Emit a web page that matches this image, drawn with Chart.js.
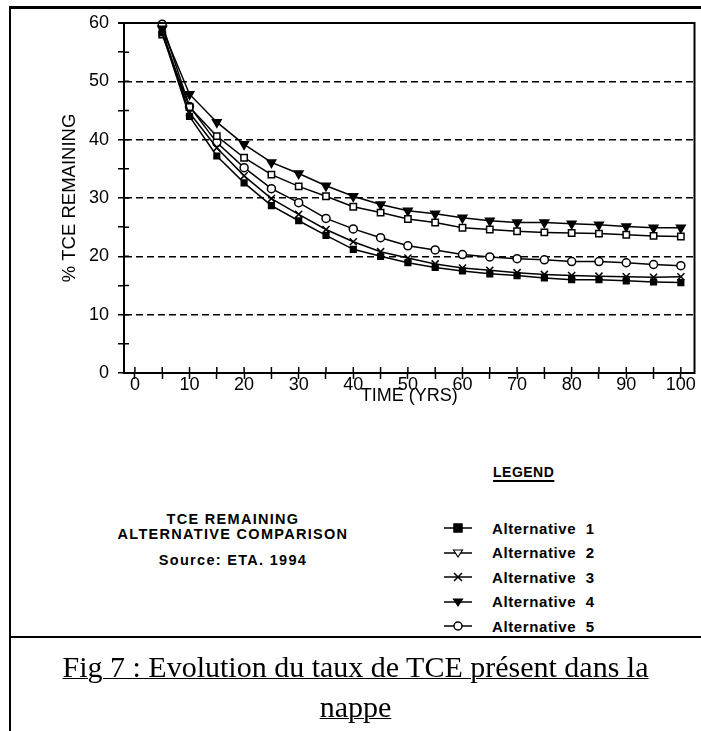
<!DOCTYPE html>
<html>
<head>
<meta charset="utf-8">
<script src="https://cdn.jsdelivr.net/npm/chart.js"></script>
<style>
  body { margin: 0; background: #fff; }
  #page { position: relative; width: 701px; height: 731px; overflow: hidden; color: #000; font-family: "Liberation Sans", Arial, sans-serif; }
  #chart { position: absolute; left: 0; top: 0; }
  .rule { position: absolute; background: #000; }
  .note { position: absolute; left: 83px; width: 300px; text-align: center; font-weight: bold; font-size: 14.5px; letter-spacing: 1.3px; line-height: 16px; }
  #legend-title { position: absolute; left: 493px; top: 464px; font-weight: bold; font-size: 14px; letter-spacing: 0.5px; line-height: 16px; text-decoration: underline; text-decoration-thickness: 2px; text-underline-offset: 3px; }
  .entry { position: absolute; left: 440px; height: 20px; display: flex; align-items: center; }
  .entry svg { width: 36px; height: 20px; margin-right: 16px; }
  .entry span { font-weight: bold; font-size: 15px; letter-spacing: 0.6px; white-space: pre; }
  #caption { position: absolute; left: 10px; top: 647px; width: 691px; text-align: center; font-family: "Liberation Serif", "Times New Roman", serif; font-size: 30px; line-height: 40px; text-decoration: underline; text-decoration-thickness: 1px; }
</style>
</head>
<body>
<div id="page">
  <canvas id="chart" width="701" height="407"></canvas>
  <div class="rule" style="left:10px; top:6px; width:691px; height:3px;"></div>
  <div class="rule" style="left:9px; top:6px; width:2px; height:725px;"></div>
  <div class="rule" style="left:10px; top:636px; width:691px; height:2px;"></div>

  <div class="note" style="top:511px;">TCE REMAINING</div>
  <div class="note" style="top:526px;">ALTERNATIVE COMPARISON</div>
  <div class="note" style="top:552px;">Source: ETA. 1994</div>

  <div id="legend-title">LEGEND</div>
  <div id="legend"></div>

  <div id="caption">Fig 7 : Evolution du taux de TCE présent dans la<br>nappe</div>
</div>
<script>
// temps (années)
const years = [5, 10, 15, 20, 25, 30, 35, 40, 45, 50, 55, 60, 65, 70, 75, 80, 85, 90, 95, 100];

// % TCE restant
const alt1 = [58.3, 44.0, 37.2, 32.6, 28.7, 26.1, 23.6, 21.2, 20.0, 18.9, 18.1, 17.5, 17.0, 16.7, 16.3, 16.0, 16.0, 15.8, 15.6, 15.5];
const alt2 = [58.0, 45.6, 40.6, 36.9, 34.0, 32.0, 30.3, 28.5, 27.5, 26.4, 25.8, 24.9, 24.6, 24.3, 24.1, 24.0, 23.9, 23.7, 23.5, 23.4];
const alt3 = [58.8, 44.6, 38.6, 33.8, 29.9, 27.2, 24.6, 22.5, 20.8, 19.7, 18.7, 18.0, 17.6, 17.2, 16.9, 16.7, 16.6, 16.5, 16.4, 16.5];
const alt4 = [59.0, 47.8, 43.0, 39.2, 36.1, 34.2, 32.1, 30.3, 28.9, 27.8, 27.3, 26.6, 26.1, 25.8, 25.8, 25.6, 25.4, 25.1, 24.9, 24.9];
const alt5 = [59.8, 45.7, 39.5, 35.2, 31.6, 29.2, 26.5, 24.7, 23.2, 21.8, 21.1, 20.3, 19.9, 19.6, 19.4, 19.1, 19.1, 18.9, 18.6, 18.4];

const seriesNames = ["Alternative  1", "Alternative  2", "Alternative  3", "Alternative  4", "Alternative  5"];
const seriesValues = [alt1, alt2, alt3, alt4, alt5];

// style des marqueurs
const markers = [
  { pointStyle: "rect", fill: "#000", radius: 4 },
  { pointStyle: "rect", fill: "#fff", radius: 4.5 },
  { pointStyle: "crossRot", fill: "#fff", radius: 5 },
  { pointStyle: "triangle", fill: "#000", radius: 5, rotation: 180 },
  { pointStyle: "circle", fill: "#fff", radius: 4 },
];

const xTicks = [0, 10, 20, 30, 40, 50, 60, 70, 80, 90, 100];
const yTicks = [0, 10, 20, 30, 40, 50, 60];

const datasets = seriesValues.map((vals, i) => ({
  label: seriesNames[i],
  data: vals.map((v, j) => ({ x: years[j], y: v })),
  borderColor: "#000",
  borderWidth: 1.5,
  backgroundColor: markers[i].fill,
  pointStyle: markers[i].pointStyle,
  pointRadius: markers[i].radius,
  pointRotation: markers[i].rotation || 0,
  pointBorderColor: "#000",
  pointBorderWidth: 1.5,
  pointBackgroundColor: markers[i].fill,
  tension: 0,
  clip: false,
}));

// cadre du graphe + petites graduations qui traversent les axes
const framePlugin = {
  id: "frame",
  afterDraw(chart) {
    const { ctx, chartArea: a, scales } = chart;
    ctx.save();
    ctx.strokeStyle = "#000";
    ctx.lineWidth = 2;
    ctx.beginPath();
    ctx.moveTo(a.left - 6, a.top);
    ctx.lineTo(a.right, a.top);
    ctx.lineTo(a.right, a.bottom + 1);
    ctx.stroke();
    ctx.lineWidth = 1.5;
    ctx.beginPath();
    scales.x.ticks.forEach((t) => {
      const px = scales.x.getPixelForValue(t.value);
      ctx.moveTo(px, a.bottom);
      ctx.lineTo(px, a.bottom - 6);
    });
    scales.y.ticks.forEach((t) => {
      if (t.value <= 0 || t.value >= 60) return;
      const py = scales.y.getPixelForValue(t.value);
      ctx.moveTo(a.left, py);
      ctx.lineTo(a.left + 5, py);
    });
    ctx.stroke();
    ctx.restore();
  },
};

new Chart(document.getElementById("chart"), {
  type: "line",
  data: { datasets },
  plugins: [framePlugin],
  options: {
    responsive: false,
    animation: false,
    layout: { padding: { left: 55, right: 6, top: 23, bottom: 0 } },
    plugins: { legend: { display: false }, tooltip: { enabled: false } },
    scales: {
      x: {
        type: "linear",
        min: -2,
        max: 102.5,
        afterBuildTicks: (s) => {
          s.ticks = s.ticks.filter((t) => t.value >= 0 && t.value <= 100 && t.value % 5 === 0);
        },
        afterFit: (s) => { s.height = 34; },
        ticks: {
          stepSize: 5,
          includeBounds: false,
          autoSkip: false,
          maxRotation: 0,
          padding: -5,
          color: "#000",
          font: { family: "Liberation Sans", size: 18 },
          callback: (v) => (xTicks.includes(v) ? String(v) : ""),
        },
        grid: { drawOnChartArea: false, drawTicks: true, tickLength: 6, color: "#000", tickColor: "#000", tickWidth: 1.5 },
        border: { display: true, color: "#000", width: 2 },
        title: { display: true, text: "TIME (YRS)", color: "#000", font: { family: "Liberation Sans", size: 18 }, padding: 0 },
      },
      y: {
        type: "linear",
        min: 0,
        max: 60,
        afterFit: (s) => { s.width = 69; },
        ticks: {
          stepSize: 5,
          autoSkip: false,
          padding: 9,
          color: "#000",
          font: { family: "Liberation Sans", size: 18 },
          callback: (v) => (yTicks.includes(v) ? String(v) : ""),
        },
        grid: {
          drawTicks: true,
          tickLength: 6,
          tickColor: "#000",
          tickWidth: 1.5,
          lineWidth: 1.5,
          color: (c) => (c.tick && c.tick.value > 0 && c.tick.value < 60 && c.tick.value % 10 === 0 ? "#000" : "rgba(0,0,0,0)"),
        },
        border: { display: true, color: "#000", width: 2, dash: [7, 4] },
        title: { display: true, text: "% TCE REMAINING", color: "#000", font: { family: "Liberation Sans", size: 18.5 }, padding: 4 },
      },
    },
  },
});

// légende en bas à droite
function markerSvg(m) {
  let shape = "";
  const fill = m.fill;
  if (m.pointStyle === "rect") shape = `<rect x="14" y="6" width="8" height="8" fill="${fill}" stroke="#000" stroke-width="1.5"/>`;
  if (m.pointStyle === "crossRot") shape = `<path d="M14 6 L22 14 M22 6 L14 14" stroke="#000" stroke-width="1.5"/>`;
  if (m.pointStyle === "triangle") shape = `<path d="M13.5 7 L22.5 7 L18 14 Z" fill="${fill}" stroke="#000" stroke-width="1.2"/>`;
  if (m.pointStyle === "circle") shape = `<circle cx="18" cy="10" r="4" fill="${fill}" stroke="#000" stroke-width="1.5"/>`;
  return `<svg viewBox="0 0 36 20"><line x1="4" y1="10" x2="32" y2="10" stroke="#000" stroke-width="1.5"/>${shape}</svg>`;
}

// l'alternative 2 apparaît en triangle ouvert dans la légende
const legendMarkers = markers.map((m, i) => (i === 1 ? { pointStyle: "triangle", fill: "#fff" } : m));
const $legend = document.getElementById("legend");
seriesNames.forEach((name, i) => {
  const row = document.createElement("div");
  row.className = "entry";
  row.style.top = 518 + i * 24.5 + "px";
  row.innerHTML = markerSvg(legendMarkers[i]) + `<span>${name}</span>`;
  $legend.appendChild(row);
});
</script>
</body>
</html>
